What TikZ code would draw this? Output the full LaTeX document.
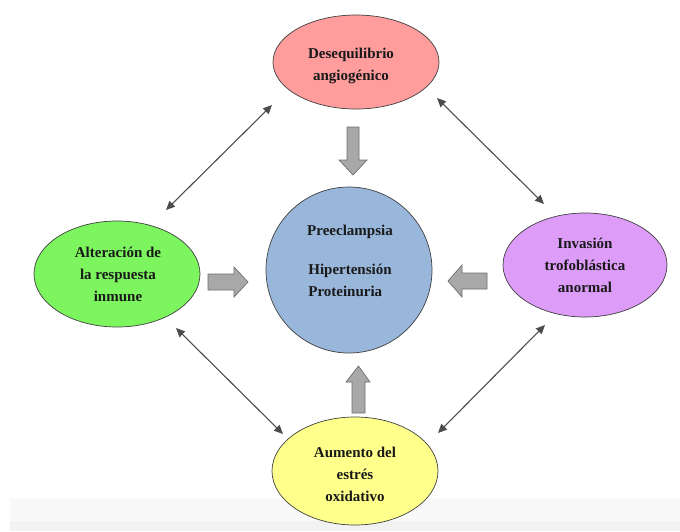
\documentclass[tikz,border=0pt]{standalone}
\usepackage{fontspec}
\setmainfont{Liberation Serif}
\usetikzlibrary{arrows.meta}
\definecolor{cpink}{HTML}{FF9C9C}
\definecolor{cgreen}{HTML}{7CF55F}
\definecolor{cpurple}{HTML}{DC9CF8}
\definecolor{cyellow}{HTML}{FFFF8C}
\definecolor{cblue}{HTML}{98B7DB}
\definecolor{blockfill}{HTML}{A8A8A8}
\definecolor{blockdraw}{HTML}{6E6E6E}
\definecolor{bandA}{HTML}{F9F9F9}
\definecolor{bandB}{HTML}{F2F2F2}
\tikzset{
  ell/.style={draw=black!75, line width=0.7pt},
  lbl/.style={align=center, font=\fontsize{15}{22}\selectfont\bfseries, text=black!90},
  dbl/.style={draw=black!70, line width=1.1pt, {Triangle[length=9pt,width=8pt]}-{Triangle[length=9pt,width=8pt]}},
  blockarrow/.style={fill=blockfill, draw=blockdraw, line width=0.7pt, line join=miter}
}
\begin{document}
\begin{tikzpicture}[x=1pt,y=-1pt]
\useasboundingbox (0,0) rectangle (680,531);
\fill[bandA] (10,498) rectangle (680,521);
\fill[bandB] (10,521) rectangle (680,531);
% ellipses
\draw[ell, fill=cpink] (356,62) ellipse [x radius=83, y radius=47];
\draw[ell, fill=cgreen] (117,274) ellipse [x radius=83, y radius=53];
\draw[ell, fill=cpurple] (585,265) ellipse [x radius=82, y radius=52];
\draw[ell, fill=cyellow] (355,471) ellipse [x radius=83, y radius=54];
\draw[ell, fill=cblue] (349,270) circle [radius=83];
% labels
\node[lbl] (top) at (351,66) {Desequilibrio\\angiogénico};
\node[lbl] (left) at (118,274) {Alteración de\\la respuesta\\inmune};
\node[lbl] (right) at (585,265) {Invasión\\trofoblástica\\anormal};
\node[lbl] (bottom) at (355,474) {Aumento del\\estrés\\oxidativo};
\node[lbl] (pre) at (350,232) {Preeclampsia};
\node[lbl, align=left] (hp) at (350,280) {Hipertensión\\Proteinuria};
% double arrows
\coordinate (a1) at (166,210); \coordinate (a2) at (272,105);
\coordinate (b1) at (437,98);  \coordinate (b2) at (544,204);
\coordinate (c1) at (176,328); \coordinate (c2) at (283,434);
\coordinate (d1) at (545,325); \coordinate (d2) at (438,433);
\draw[dbl] (a1) -- (a2);
\draw[dbl] (b1) -- (b2);
\draw[dbl] (c1) -- (c2);
\draw[dbl] (d1) -- (d2);
% block arrows
% down (top)
\draw[blockarrow] (347,127) -- (359,127) -- (359,160) -- (367,160) -- (353,175) -- (339,160) -- (347,160) -- cycle;
% right (left)
\draw[blockarrow] (208,274) -- (234,274) -- (234,267) -- (248,282) -- (234,297) -- (234,290) -- (208,290) -- cycle;
% left (right)
\draw[blockarrow] (487,273) -- (462,273) -- (462,265) -- (448,281) -- (462,297) -- (462,289) -- (487,289) -- cycle;
% up (bottom)
\draw[blockarrow] (352,413) -- (365,413) -- (365,382) -- (370,382) -- (358.5,366) -- (346,382) -- (352,382) -- cycle;
\end{tikzpicture}
\end{document}
